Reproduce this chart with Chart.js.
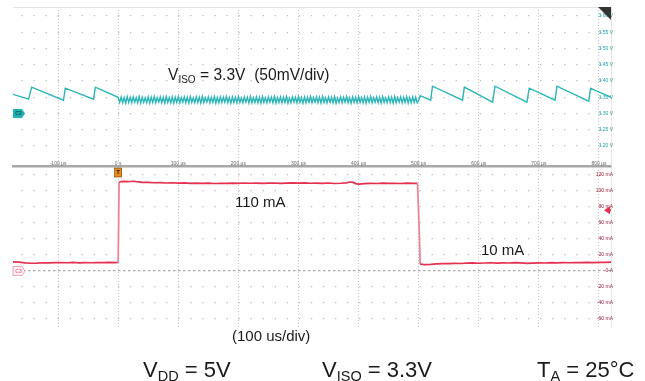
<!DOCTYPE html>
<html>
<head>
<meta charset="utf-8">
<script src="https://cdn.jsdelivr.net/npm/chart.js@4"></script>
<style>
  html, body { margin: 0; padding: 0; background: #fff; }
  #wrap { position: relative; width: 645px; height: 381px; overflow: hidden;
          font-family: "Liberation Sans", Arial, sans-serif; color: #1a1a1a; }
  #wrap canvas { position: absolute; left: 0; top: 0; }
  .note { position: absolute; white-space: nowrap; line-height: 1; font-size: 15px; }
  .note .sub { font-size: 10px; position: relative; top: 3px; }
  .wide { font-size: 15.6px; }
  .cond { font-size: 22px; }
  .cond .sub { font-size: 14.5px; top: 4px; }
</style>
</head>
<body>
<div id="wrap">
  <canvas id="vChart" width="645" height="381"></canvas>
  <canvas id="iChart" width="645" height="381"></canvas>
  <div class="note wide" style="left:168px; top:67px">V<span class="sub">ISO</span> = 3.3V&nbsp; (50mV/div)</div>
  <div class="note" style="left:235px; top:194px">110 mA</div>
  <div class="note" style="left:481px; top:242px">10 mA</div>
  <div class="note" style="left:232px; top:328px">(100 us/div)</div>
  <div class="note cond" style="left:143px; top:359px">V<span class="sub">DD</span> = 5V</div>
  <div class="note cond" style="left:322px; top:359px">V<span class="sub">ISO</span> = 3.3V</div>
  <div class="note cond" style="left:537px; top:359px">T<span class="sub">A</span> = 25°C</div>
</div>
<script>
// time base: 100 us/div
const timeMin = -175, timeMax = 820;
const timeTicks = [-100, 0, 100, 200, 300, 400, 500, 600, 700, 800];
const timeLabels = ['-100 µs', '0 s', '100 µs', '200 µs', '300 µs', '400 µs', '500 µs', '600 µs', '700 µs', '800 µs'];

// C2: VISO, 50 mV/div
const voltMin = 3.1385, voltMax = 3.6277;
const voltTicks = [3.20, 3.25, 3.30, 3.35, 3.40, 3.45, 3.50, 3.55, 3.60];
const voltLabels = ['3.20 V', '3.25 V', '3.30 V', '3.35 V', '3.40 V', '3.45 V', '3.50 V', '3.55 V', '3.60 V'];

// C3: load current, 20 mA/div
const currMin = -71.25, currMax = 130;
const currTicks = [-60, -40, -20, 0, 20, 40, 60, 80, 100, 120];
const currLabels = ['-60 mA', '-40 mA', '-20 mA', '0 A', '20 mA', '40 mA', '60 mA', '80 mA', '100 mA', '120 mA'];

// channel offset / trigger level markers
const c2Level = 3.30;
const c3Level = 0;
const trigLevel = 76;

// VISO trace, [us, V]
const vIsoTrace = [
  [-175, 3.359], [-149, 3.344], [-144, 3.381], [-91, 3.341], [-88, 3.378], [-41, 3.344], [-38, 3.381],
  [0, 3.350], [2.5, 3.334], [5, 3.351], [7.5, 3.333], [10, 3.349], [12.5, 3.332], [15, 3.352], [17.5, 3.334], [20, 3.350], [22.5, 3.333],
  [25, 3.351], [27.5, 3.335], [30, 3.349], [32.5, 3.333], [35, 3.352], [37.5, 3.332], [40, 3.350], [42.5, 3.334], [45, 3.348], [47.5, 3.333],
  [50, 3.351], [52.5, 3.332], [55, 3.350], [57.5, 3.334], [60, 3.352], [62.5, 3.333], [65, 3.349], [67.5, 3.335], [70, 3.351], [72.5, 3.333],
  [75, 3.350], [77.5, 3.332], [80, 3.352], [82.5, 3.334], [85, 3.349], [87.5, 3.333], [90, 3.351], [92.5, 3.332], [95, 3.350], [97.5, 3.334],
  [100, 3.352], [102.5, 3.333], [105, 3.349], [107.5, 3.335], [110, 3.351], [112.5, 3.333], [115, 3.350], [117.5, 3.332], [120, 3.352], [122.5, 3.334],
  [125, 3.348], [127.5, 3.333], [130, 3.351], [132.5, 3.334], [135, 3.350], [137.5, 3.332], [140, 3.352], [142.5, 3.333], [145, 3.349], [147.5, 3.335],
  [150, 3.351], [152.5, 3.333], [155, 3.350], [157.5, 3.334], [160, 3.352], [162.5, 3.332], [165, 3.349], [167.5, 3.333], [170, 3.351], [172.5, 3.334],
  [175, 3.350], [177.5, 3.335], [180, 3.352], [182.5, 3.333], [185, 3.349], [187.5, 3.332], [190, 3.351], [192.5, 3.334], [195, 3.350], [197.5, 3.333],
  [200, 3.352], [202.5, 3.334], [205, 3.348], [207.5, 3.333], [210, 3.351], [212.5, 3.335], [215, 3.350], [217.5, 3.332], [220, 3.352], [222.5, 3.333],
  [225, 3.349], [227.5, 3.334], [230, 3.351], [232.5, 3.333], [235, 3.350], [237.5, 3.332], [240, 3.352], [242.5, 3.334], [245, 3.349], [247.5, 3.333],
  [250, 3.351], [252.5, 3.335], [255, 3.350], [257.5, 3.333], [260, 3.352], [262.5, 3.332], [265, 3.349], [267.5, 3.334], [270, 3.351], [272.5, 3.333],
  [275, 3.350], [277.5, 3.334], [280, 3.352], [282.5, 3.332], [285, 3.348], [287.5, 3.333], [290, 3.351], [292.5, 3.335], [295, 3.350], [297.5, 3.333],
  [300, 3.352], [302.5, 3.334], [305, 3.349], [307.5, 3.332], [310, 3.351], [312.5, 3.333], [315, 3.350], [317.5, 3.334], [320, 3.352], [322.5, 3.333],
  [325, 3.349], [327.5, 3.335], [330, 3.351], [332.5, 3.333], [335, 3.350], [337.5, 3.332], [340, 3.352], [342.5, 3.334], [345, 3.349], [347.5, 3.333],
  [350, 3.351], [352.5, 3.334], [355, 3.350], [357.5, 3.333], [360, 3.352], [362.5, 3.332], [365, 3.348], [367.5, 3.334], [370, 3.351], [372.5, 3.333],
  [375, 3.350], [377.5, 3.335], [380, 3.352], [382.5, 3.333], [385, 3.349], [387.5, 3.332], [390, 3.351], [392.5, 3.334], [395, 3.350], [397.5, 3.333],
  [400, 3.352], [402.5, 3.334], [405, 3.349], [407.5, 3.333], [410, 3.351], [412.5, 3.332], [415, 3.350], [417.5, 3.334], [420, 3.352], [422.5, 3.333],
  [425, 3.349], [427.5, 3.335], [430, 3.351], [432.5, 3.333], [435, 3.350], [437.5, 3.332], [440, 3.352], [442.5, 3.334], [445, 3.348], [447.5, 3.333],
  [450, 3.351], [452.5, 3.334], [455, 3.350], [457.5, 3.332], [460, 3.352], [462.5, 3.333], [465, 3.349], [467.5, 3.335], [470, 3.351], [472.5, 3.333],
  [475, 3.350], [477.5, 3.334], [480, 3.352], [482.5, 3.332], [485, 3.349], [487.5, 3.333], [490, 3.351], [492.5, 3.334], [495, 3.350], [497.5, 3.333],
  [500, 3.340], [502.5, 3.355], [520, 3.341], [523, 3.384], [573, 3.341], [576, 3.381], [623, 3.335], [627, 3.384],
  [680, 3.335], [684, 3.378], [727, 3.341], [730, 3.384], [783, 3.338], [786, 3.378], [820, 3.350]
];

// load current trace, [us, mA]
const iLoadTrace = [
  [-175, 11.5], [-165, 11.0], [-155, 10.2], [-145, 9.7], [-135, 9.8], [-125, 10.3], [-115, 10.1], [-105, 10.4],
  [-95, 10.6], [-85, 10.3], [-75, 10.7], [-65, 10.2], [-55, 10.5], [-45, 10.3], [-35, 10.6], [-25, 10.4],
  [-15, 10.8], [-5, 10.5], [0, 10.6], [1.5, 111.0],
  [5, 111.8], [10, 112.0], [15, 111.6], [20, 111.9], [25, 112.2], [30, 111.7], [35, 111.4], [40, 110.9],
  [50, 110.8], [60, 110.3], [70, 110.5], [80, 110.0], [90, 110.3], [100, 109.9], [110, 110.2], [120, 109.6],
  [130, 109.8], [140, 109.5], [150, 109.9], [160, 109.4], [170, 109.7], [180, 109.5], [190, 109.9], [200, 109.6],
  [210, 110.0], [220, 109.7], [230, 109.9], [240, 109.5], [250, 109.8], [260, 110.0], [270, 109.6], [280, 109.9],
  [290, 110.2], [300, 109.8], [310, 110.1], [320, 109.7], [330, 109.9], [340, 109.6], [350, 110.0], [360, 109.4],
  [370, 109.7], [380, 110.2], [385, 111.2], [390, 111.0], [395, 109.2], [400, 108.6], [410, 109.3], [420, 109.6],
  [430, 109.4], [440, 109.8], [450, 109.5], [460, 109.7], [470, 109.4], [480, 109.8], [490, 109.5], [498, 109.6],
  [500.5, 60.0], [502.5, 8.6], [510, 8.0], [520, 8.3], [530, 8.8], [540, 9.1], [550, 9.3], [560, 9.6],
  [570, 9.4], [580, 9.8], [590, 10.1], [600, 9.7], [610, 10.0], [620, 10.3], [630, 9.9], [640, 10.2],
  [650, 10.0], [660, 10.4], [670, 10.1], [680, 9.6], [690, 9.9], [700, 10.2], [710, 10.0], [720, 10.4],
  [730, 10.1], [740, 10.5], [750, 10.3], [760, 10.6], [770, 10.4], [780, 10.8], [790, 10.5], [800, 10.9],
  [810, 10.7], [820, 11.0]
];

const tinyFont = { family: 'Liberation Sans', size: 5 };
// dots on the horizontal rows sit on the 20 us sub-divisions
const rowDots = [1.3, 10.76];
const rowDotsOffset = 3.6;

function channelTag(ctx, x, y, fill, stroke, text, textColor) {
  ctx.save();
  ctx.beginPath();
  ctx.moveTo(x, y - 4.5);
  ctx.lineTo(x + 9, y - 4.5);
  ctx.lineTo(x + 12, y);
  ctx.lineTo(x + 9, y + 4.5);
  ctx.lineTo(x, y + 4.5);
  ctx.closePath();
  ctx.fillStyle = fill;
  ctx.fill();
  if (stroke) {
    ctx.strokeStyle = stroke;
    ctx.lineWidth = 1;
    ctx.stroke();
  }
  ctx.fillStyle = textColor;
  ctx.font = 'bold 5px Liberation Sans';
  ctx.textAlign = 'center';
  ctx.textBaseline = 'middle';
  ctx.fillText(text, x + 5.5, y + 0.5);
  ctx.restore();
}

const voltMarks = {
  id: 'voltMarks',
  afterDraw(chart) {
    const ctx = chart.ctx, a = chart.chartArea;
    ctx.save();
    ctx.strokeStyle = '#e4e4e4';
    ctx.lineWidth = 1;
    ctx.beginPath();
    ctx.moveTo(a.left, a.top + 0.5);
    ctx.lineTo(a.right, a.top + 0.5);
    ctx.stroke();
    // corner flag
    ctx.fillStyle = '#333';
    ctx.beginPath();
    ctx.moveTo(a.right - 13, a.top);
    ctx.lineTo(a.right, a.top);
    ctx.lineTo(a.right, a.top + 13);
    ctx.closePath();
    ctx.fill();
    ctx.restore();
    channelTag(ctx, a.left, chart.scales.y.getPixelForValue(c2Level), '#1fb2b4', null, 'C2', '#0b4f50');
  }
};

const currMarks = {
  id: 'currMarks',
  afterDraw(chart) {
    const ctx = chart.ctx, a = chart.chartArea;
    const xs = chart.scales.x, ys = chart.scales.y;
    channelTag(ctx, a.left, ys.getPixelForValue(c3Level), '#fff2f5', '#f2a3b4', 'C3', '#e9738d');
    // trigger position
    const tx = xs.getPixelForValue(0);
    ctx.save();
    ctx.fillStyle = '#e98a17';
    ctx.fillRect(tx - 3.5, a.top + 1, 7, 9);
    ctx.strokeStyle = '#6a3a00';
    ctx.lineWidth = 0.6;
    ctx.strokeRect(tx - 3.5, a.top + 1, 7, 9);
    ctx.fillStyle = '#2a1a00';
    ctx.font = 'bold 6px Liberation Sans';
    ctx.textAlign = 'center';
    ctx.textBaseline = 'middle';
    ctx.fillText('T', tx, a.top + 5.8);
    // trigger level
    const ty = ys.getPixelForValue(trigLevel);
    ctx.fillStyle = '#e5314f';
    ctx.beginPath();
    ctx.moveTo(a.right - 7, ty);
    ctx.lineTo(a.right - 1, ty - 4);
    ctx.lineTo(a.right - 1, ty + 4);
    ctx.closePath();
    ctx.fill();
    ctx.fillRect(a.right - 3, ty - 1, 3, 2);
    ctx.restore();
  }
};

function timeAxis(showLabels) {
  return {
    type: 'linear',
    min: timeMin,
    max: timeMax,
    afterBuildTicks: s => { s.ticks = timeTicks.map(v => ({ value: v })); },
    ticks: {
      display: showLabels, mirror: true, padding: -1, maxRotation: 0, autoSkip: false,
      color: '#666', font: tinyFont,
      callback: (v, i) => timeLabels[i]
    },
    grid: { color: '#c9c9c9', lineWidth: 1, drawTicks: false },
    border: { display: showLabels, color: '#a8a8a8', width: 2.5, dash: [1, 2] }
  };
}

// steep edges of the current trace render lighter, as on the scope
const steepEdge = c => Math.abs(c.p1.parsed.y - c.p0.parsed.y) > 20 ? '#ef7f93' : undefined;

new Chart(document.getElementById('vChart'), {
  type: 'line',
  data: {
    datasets: [{
      data: vIsoTrace,
      borderColor: '#2bb5b8',
      borderWidth: 1.4,
      pointRadius: 0,
      tension: 0
    }]
  },
  options: {
    responsive: false,
    animation: false,
    events: [],
    layout: { padding: { left: 13, top: 7, right: 30, bottom: 215 } },
    plugins: { legend: { display: false }, tooltip: { enabled: false } },
    scales: {
      x: timeAxis(true),
      y: {
        type: 'linear',
        position: 'right',
        min: voltMin,
        max: voltMax,
        afterBuildTicks: s => { s.ticks = voltTicks.map(v => ({ value: v })); },
        ticks: { mirror: true, padding: 2, color: '#1c9ca0', font: tinyFont, callback: (v, i) => voltLabels[i] },
        grid: { color: '#bdbdbd', lineWidth: 1.2, drawTicks: false },
        border: { display: true, color: '#e6e6e6', width: 1, dash: rowDots, dashOffset: rowDotsOffset }
      }
    }
  },
  plugins: [voltMarks]
});

new Chart(document.getElementById('iChart'), {
  type: 'line',
  data: {
    datasets: [{
      data: iLoadTrace,
      borderColor: '#e5314f',
      borderWidth: 1.7,
      pointRadius: 0,
      tension: 0,
      segment: { borderColor: steepEdge }
    }]
  },
  options: {
    responsive: false,
    animation: false,
    events: [],
    layout: { padding: { left: 13, top: 167, right: 30, bottom: 53 } },
    plugins: { legend: { display: false }, tooltip: { enabled: false } },
    scales: {
      x: timeAxis(false),
      y: {
        type: 'linear',
        position: 'right',
        min: currMin,
        max: currMax,
        afterBuildTicks: s => { s.ticks = currTicks.map(v => ({ value: v })); },
        ticks: { mirror: true, padding: 2, color: '#9e1f3d', font: tinyFont, callback: (v, i) => currLabels[i] },
        grid: {
          color: c => (c.tick && c.tick.value === c3Level) ? '#a9a9a9' : '#bdbdbd',
          lineWidth: 1.2,
          drawTicks: false
        },
        border: {
          display: true, color: '#e6e6e6', width: 1,
          dash: c => (c.tick && c.tick.value === c3Level) ? [2.5, 2.5] : rowDots,
          dashOffset: c => (c.tick && c.tick.value === c3Level) ? 0 : rowDotsOffset
        }
      }
    }
  },
  plugins: [currMarks]
});
</script>
</body>
</html>
